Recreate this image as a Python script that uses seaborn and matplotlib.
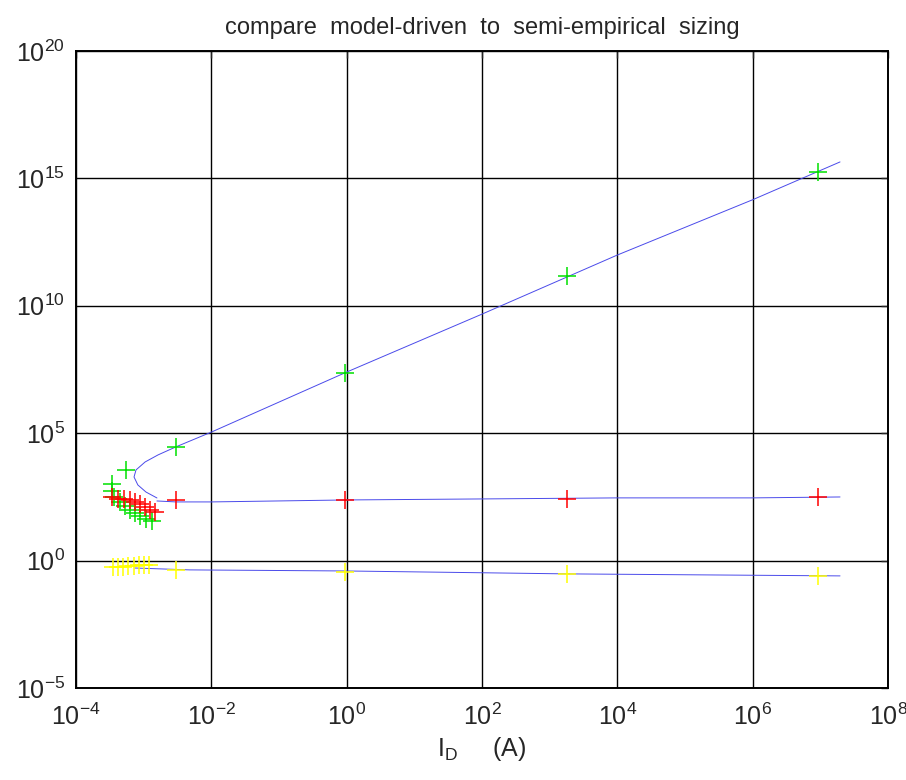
import numpy as np
import pandas as pd
import seaborn as sns
import matplotlib.pyplot as plt
from matplotlib.ticker import LogLocator, LogFormatterSciNotation, NullLocator

# semi-empirical points (markers)
green_x = [5.5e-4, 3.4e-4, 3.4e-4, 3.65e-4, 4.5e-4, 5.3e-4, 6.3e-4, 7.4e-4, 8.8e-4, 1.08e-3, 1.33e-3,
           3.0e-3, 0.95, 1.8e3, 9.2e6]
green_y = [3.6e3, 1.0e3, 5.4e2, 3.1e2, 2.0e2, 1.4e2, 97, 74, 56, 43, 36,
           2.9e4, 2.3e7, 1.5e11, 1.8e15]

red_x = [3.4e-4, 4.2e-4, 5.1e-4, 6.3e-4, 7.4e-4, 8.8e-4, 1.05e-3, 1.24e-3, 1.47e-3,
         3.0e-3, 0.95, 1.8e3, 9.2e6]
red_y = [300, 260, 250, 230, 200, 165, 130, 100, 82,
         239, 239, 262, 313]

yellow_x = [3.5e-4, 4.2e-4, 5.0e-4, 5.9e-4, 7.2e-4, 8.5e-4, 1.01e-3, 1.2e-3,
            3.0e-3, 0.95, 1.8e3, 9.2e6]
yellow_y = [0.56, 0.56, 0.56, 0.61, 0.61, 0.67, 0.67, 0.67,
            0.43, 0.36, 0.30, 0.25]

# model-driven curves (blue lines)
model_g_x = [1.57e-3, 1.08e-3, 8.2e-4, 7.2e-4, 7.7e-4, 1.05e-3, 1.63e-3, 3.0e-3, 1e-2, 1, 1e2, 1e4, 1e6, 1.95e7]
model_g_y = [286, 490, 927, 1.9e3, 3.6e3, 7.4e3, 1.4e4, 2.9e4, 1.1e5, 2.5e7, 4.7e9, 9.8e11, 1.45e14, 4.4e15]

model_r_x = [1.57e-3, 3e-3, 1e-2, 1, 1e2, 1e4, 1e6, 1.95e7]
model_r_y = [218, 200, 200, 239, 262, 288, 288, 313]

model_y_x = [7.4e-4, 4.8e-3, 1, 1.8e3, 1.95e7]
model_y_y = [0.51, 0.43, 0.39, 0.30, 0.25]

sns.set_style("white")
plt.rcParams['font.family'] = ['Liberation Sans', 'DejaVu Sans']
plt.rcParams['mathtext.fontset'] = 'custom'
plt.rcParams['mathtext.rm'] = 'Liberation Sans'
plt.rcParams['mathtext.it'] = 'Liberation Sans'
plt.rcParams['axes.unicode_minus'] = False

fig = plt.figure(figsize=(9.06, 7.80), dpi=100)
ax = fig.add_axes([0.0839, 0.118, 0.8963, 0.8167])
ax.set_xscale('log')
ax.set_yscale('log')

for mx, my in [(model_g_x, model_g_y), (model_r_x, model_r_y), (model_y_x, model_y_y)]:
    sns.lineplot(x=mx, y=my, sort=False, estimator=None, color='#4a4aea', linewidth=0.7, ax=ax)

for px, py, c in [(green_x, green_y, '#00e000'), (red_x, red_y, '#ff0000'), (yellow_x, yellow_y, '#ffff00')]:
    sns.scatterplot(x=px, y=py, marker='+', s=170, color=c, linewidth=1.1, ax=ax, zorder=3)

ax.set_xlim(1e-4, 1e8)
ax.set_ylim(1e-5, 1e20)
ax.xaxis.set_major_locator(LogLocator(base=100.0, numticks=20))
ax.yaxis.set_major_locator(LogLocator(base=1e5, numticks=20))
ax.xaxis.set_minor_locator(NullLocator())
ax.yaxis.set_minor_locator(NullLocator())
ax.xaxis.set_major_formatter(LogFormatterSciNotation(base=10))
ax.yaxis.set_major_formatter(LogFormatterSciNotation(base=10))
ax.grid(True, color='black', linewidth=1.0, linestyle='-')
ax.tick_params(direction='in', top=True, right=True, length=5, width=1, labelsize=18)
ax.tick_params(axis='x', pad=11)
ax.tick_params(axis='y', pad=8)
for sp in ax.spines.values():
    sp.set_color('black')
    sp.set_linewidth(1.4)

ax.set_title('compare  model-driven  to  semi-empirical  sizing', fontsize=17, pad=12)
ax.set_xlabel(r'I$_{\mathrm{D}}$     (A)', fontsize=18, labelpad=4)

fig.savefig('out.png', dpi=100)
